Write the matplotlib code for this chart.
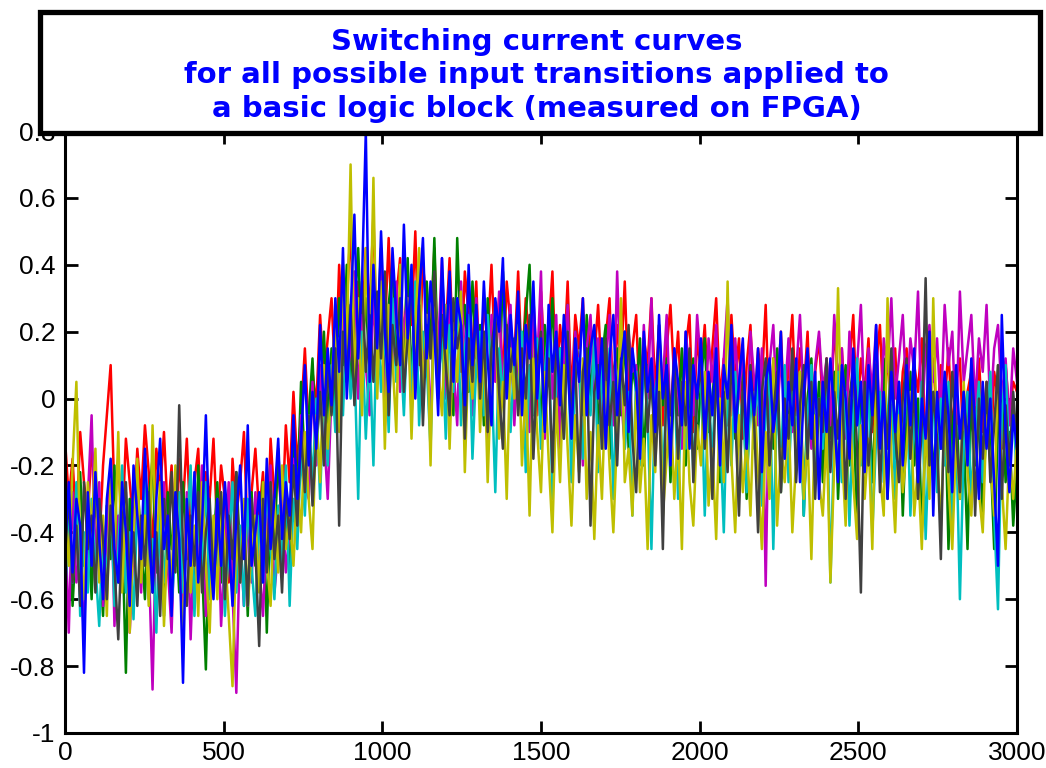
import numpy as np
import matplotlib
matplotlib.use("Agg")
import matplotlib.pyplot as plt
from matplotlib.patches import Rectangle
from matplotlib.ticker import FuncFormatter

plt.rcParams['axes.unicode_minus'] = False

# one value read every 12 samples, 0 .. 3000
x = np.arange(0, 3001, 12)

red = [-0.12, -0.30, -0.18, -0.40, -0.10, -0.25, -0.35, -0.15, -0.28, -0.45,
       -0.20, -0.05, 0.10, -0.30, -0.18, -0.40, -0.12, -0.25, -0.38, -0.15,
       -0.30, -0.08, -0.22, -0.45, -0.15, -0.28, -0.10, -0.35, -0.20, -0.50,
       -0.18, -0.32, -0.12, -0.40, -0.25, -0.15, -0.45, -0.22, -0.30, -0.12,
       -0.40, -0.20, -0.30, -0.55, -0.18, -0.35, -0.25, -0.10, -0.42, -0.28,
       -0.15, -0.35, -0.22, -0.48, -0.12, -0.30, -0.20, -0.38, -0.08, -0.25,
       0.02, -0.20, -0.05, 0.15, -0.10, 0.08, -0.02, 0.25, 0.05, 0.18,
       0.30, 0.05, 0.40, 0.15, 0.28, 0.52, 0.10, 0.35, 0.20, 0.45,
       0.25, 0.55, 0.10, 0.38, 0.20, 0.48, 0.15, 0.30, 0.42, 0.12,
       0.35, 0.22, 0.50, 0.10, 0.40, 0.28, 0.18, 0.45, 0.05, 0.32,
       0.20, 0.42, 0.12, 0.30, 0.08, 0.38, 0.25, 0.15, 0.35, 0.02,
       0.28, 0.18, 0.40, 0.10, 0.30, 0.05, 0.35, 0.22, 0.12, 0.38,
       0.08, 0.30, 0.15, 0.25, -0.05, 0.32, 0.10, 0.20, 0.38, 0.02,
       0.22, 0.10, 0.35, 0.00, 0.25, 0.15, 0.30, -0.02, 0.20, 0.12,
       0.28, 0.05, 0.18, 0.30, -0.05, 0.22, 0.10, 0.35, 0.00, 0.15,
       0.25, -0.05, 0.18, 0.10, 0.30, 0.02, 0.22, -0.08, 0.15, 0.28,
       0.05, 0.20, -0.05, 0.15, 0.25, -0.10, 0.18, 0.08, 0.22, -0.02,
       0.15, 0.30, 0.00, 0.12, -0.08, 0.25, 0.05, 0.18, -0.12, 0.10,
       0.22, -0.05, 0.15, 0.05, 0.28, -0.10, 0.12, 0.00, 0.20, -0.08,
       0.10, 0.25, -0.05, 0.15, 0.02, 0.20, -0.12, 0.08, 0.18, -0.02,
       0.12, -0.10, 0.22, 0.05, 0.15, -0.05, 0.10, 0.25, -0.08, 0.12,
       0.02, 0.18, -0.10, 0.10, 0.22, -0.05, 0.12, 0.00, 0.15, -0.12,
       0.08, 0.15, -0.05, 0.10, 0.02, 0.18, -0.15, 0.05, 0.12, -0.08,
       0.10, -0.02, 0.15, -0.10, 0.05, 0.12, -0.18, 0.02, 0.08, -0.05,
       0.12, -0.10, 0.05, -0.20, 0.08, 0.00, -0.15, 0.10, -0.05, 0.05,
       0.02]

green = [-0.55, -0.30, -0.62, -0.40, -0.22, -0.50, -0.35, -0.60, -0.28, -0.45,
         -0.65, -0.32, -0.48, -0.20, -0.55, -0.38, -0.82, -0.30, -0.50, -0.25,
         -0.42, -0.60, -0.30, -0.18, -0.52, -0.40, -0.65, -0.28, -0.45, -0.35,
         -0.58, -0.25, -0.48, -0.38, -0.62, -0.20, -0.50, -0.81, -0.35, -0.45,
         -0.25, -0.55, -0.40, -0.30, -0.60, -0.22, -0.48, -0.35, -0.65, -0.28,
         -0.50, -0.38, -0.25, -0.70, -0.30, -0.45, -0.15, -0.40, -0.28, -0.55,
         -0.12, -0.30, 0.05, -0.20, -0.05, 0.12, -0.15, 0.00, 0.20, -0.08,
         0.15, -0.02, 0.30, 0.10, 0.40, 0.05, 0.25, 0.45, 0.12, 0.30,
         0.08, 0.35, 0.18, 0.45, 0.02, 0.28, 0.40, 0.10, 0.32, 0.15,
         0.42, 0.05, 0.30, 0.20, -0.02, 0.35, 0.15, 0.48, 0.08, 0.25,
         0.10, 0.32, -0.05, 0.48, 0.15, 0.28, 0.02, 0.35, 0.12, 0.22,
         -0.08, 0.30, 0.10, 0.25, 0.00, 0.38, 0.15, 0.20, -0.05, 0.28,
         0.12, 0.25, 0.40, 0.00, 0.18, -0.10, 0.22, 0.08, 0.30, -0.02,
         0.15, 0.05, 0.28, -0.12, 0.20, 0.10, -0.05, 0.25, 0.00, 0.18,
         -0.10, 0.12, 0.22, -0.18, 0.08, 0.15, -0.05, 0.20, -0.15, 0.10,
         0.02, 0.18, -0.20, 0.10, 0.05, -0.12, 0.22, -0.02, 0.12, -0.25,
         0.08, -0.05, 0.15, -0.20, 0.02, 0.12, -0.15, 0.05, 0.18, -0.10,
         0.00, 0.15, -0.25, 0.08, -0.05, 0.20, -0.12, 0.02, 0.10, -0.30,
         0.05, -0.10, 0.12, -0.22, 0.00, 0.08, -0.15, 0.15, -0.28, 0.02,
         -0.08, 0.10, -0.20, 0.05, -0.35, 0.00, 0.12, -0.15, 0.05, -0.25,
         0.02, -0.12, 0.08, -0.30, -0.05, 0.10, -0.20, 0.00, -0.38, 0.05,
         -0.15, 0.08, -0.25, 0.00, -0.10, 0.12, -0.30, -0.02, -0.18, 0.05,
         -0.35, -0.05, 0.08, -0.20, 0.00, -0.40, -0.10, 0.05, -0.25, -0.02,
         -0.15, 0.05, -0.45, -0.08, 0.02, -0.30, -0.10, -0.45, 0.00, -0.20,
         -0.05, -0.35, 0.02, -0.15, -0.45, -0.08, 0.05, -0.25, -0.10, -0.38,
         -0.20]

magenta = [-0.35, -0.70, -0.28, -0.55, -0.45, -0.72, -0.30, -0.05, -0.50, -0.25,
           -0.62, -0.40, -0.20, -0.68, -0.35, -0.55, -0.28, -0.70, -0.45, -0.30,
           -0.58, -0.22, -0.48, -0.87, -0.35, -0.60, -0.25, -0.50, -0.70, -0.32,
           -0.45, -0.62, -0.28, -0.72, -0.40, -0.55, -0.20, -0.65, -0.38, -0.50,
           -0.30, -0.68, -0.45, -0.25, -0.58, -0.88, -0.40, -0.62, -0.35, -0.55,
           -0.28, -0.50, -0.65, -0.38, -0.20, -0.58, -0.45, -0.30, -0.52, -0.40,
           -0.18, -0.35, -0.05, -0.25, -0.30, 0.05, -0.20, 0.10, -0.10, -0.30,
           0.02, 0.20, -0.08, 0.30, 0.05, 0.15, 0.38, 0.00, 0.25, 0.10,
           -0.05, 0.30, 0.12, 0.40, -0.08, 0.25, 0.10, 0.35, 0.02, 0.22,
           0.30, -0.05, 0.18, 0.40, 0.05, 0.25, -0.10, 0.32, 0.15, 0.42,
           0.00, 0.28, 0.10, -0.08, 0.35, 0.12, 0.22, -0.05, 0.30, 0.08,
           0.20, -0.12, 0.25, 0.05, 0.32, 0.00, 0.18, 0.28, -0.08, 0.15,
           0.05, 0.22, -0.10, 0.30, 0.10, 0.38, -0.12, 0.18, 0.00, 0.25,
           -0.15, 0.12, 0.28, -0.05, 0.20, 0.08, -0.20, 0.15, 0.25, 0.00,
           0.18, -0.12, 0.10, 0.25, -0.08, 0.38, 0.02, -0.15, 0.20, 0.08,
           0.10, -0.10, 0.22, 0.00, 0.30, -0.15, 0.12, 0.05, 0.25, -0.08,
           0.15, 0.02, -0.15, 0.20, 0.08, -0.05, 0.25, 0.10, -0.12, 0.18,
           0.05, 0.22, -0.10, 0.12, 0.30, -0.05, 0.18, 0.00, 0.15, -0.15,
           0.20, 0.05, -0.08, 0.15, -0.56, 0.10, 0.22, -0.05, 0.12, 0.00,
           0.18, -0.10, 0.08, 0.25, -0.02, 0.15, -0.15, 0.10, 0.20, 0.02,
           0.12, -0.08, 0.25, 0.05, 0.15, -0.12, 0.20, 0.00, 0.10, 0.28,
           -0.05, 0.15, 0.02, 0.22, -0.10, 0.18, 0.08, 0.30, 0.00, 0.12,
           0.25, -0.02, 0.18, 0.08, 0.32, -0.08, 0.15, 0.22, 0.05, 0.18,
           -0.05, 0.28, 0.10, 0.20, -0.10, 0.32, 0.05, 0.15, 0.25, -0.02,
           0.18, 0.08, 0.28, -0.05, 0.15, 0.22, 0.00, 0.12, -0.08, 0.15,
           0.05]

cyan = [-0.60, -0.35, -0.55, -0.25, -0.65, -0.40, -0.58, -0.30, -0.50, -0.68,
        -0.38, -0.55, -0.28, -0.62, -0.45, -0.20, -0.58, -0.40, -0.66, -0.32,
        -0.50, -0.25, -0.60, -0.42, -0.70, -0.30, -0.55, -0.38, -0.62, -0.45,
        -0.28, -0.58, -0.40, -0.20, -0.65, -0.35, -0.52, -0.25, -0.60, -0.42,
        -0.55, -0.30, -0.65, -0.45, -0.25, -0.58, -0.38, -0.62, -0.30, -0.50,
        -0.65, -0.35, -0.55, -0.25, -0.45, -0.60, -0.32, -0.50, -0.20, -0.62,
        -0.30, -0.45, -0.15, -0.35, -0.05, -0.25, 0.00, -0.30, 0.05, -0.20,
        0.10, -0.10, 0.18, -0.05, 0.25, 0.00, 0.12, -0.30, 0.20, -0.12,
        0.15, -0.20, 0.28, 0.02, 0.22, -0.10, 0.30, 0.05, 0.18, -0.05,
        0.25, 0.00, 0.35, -0.08, 0.20, 0.10, -0.15, 0.28, 0.05, 0.18,
        -0.12, 0.22, 0.02, 0.30, -0.08, 0.15, 0.25, -0.18, 0.10, 0.20,
        -0.05, 0.25, 0.08, -0.28, 0.15, 0.00, 0.22, -0.10, 0.12, 0.02,
        0.20, -0.22, 0.10, -0.05, 0.18, -0.15, 0.08, 0.22, -0.30, 0.05,
        0.15, -0.12, 0.20, -0.25, 0.05, 0.12, -0.18, 0.08, -0.05, 0.18,
        -0.22, 0.10, -0.10, 0.15, -0.30, 0.05, 0.12, -0.15, 0.02, -0.35,
        0.08, -0.20, 0.12, -0.05, -0.45, 0.02, 0.10, -0.25, 0.05, -0.12,
        0.10, -0.30, 0.05, -0.15, 0.12, -0.22, 0.00, 0.08, -0.35, 0.02,
        -0.18, 0.10, -0.08, -0.40, 0.05, -0.20, 0.08, -0.12, 0.02, -0.28,
        0.05, -0.15, 0.10, -0.32, -0.05, 0.08, -0.45, 0.00, -0.20, 0.10,
        -0.25, 0.02, -0.12, 0.08, -0.35, -0.05, 0.10, -0.22, 0.00, -0.15,
        0.05, -0.55, -0.10, 0.08, -0.25, 0.02, -0.38, -0.05, 0.12, -0.20,
        -0.08, 0.05, -0.40, -0.12, 0.02, -0.25, -0.05, 0.10, -0.30, 0.00,
        -0.15, 0.08, -0.35, -0.05, -0.22, 0.05, -0.42, -0.10, 0.02, -0.28,
        0.00, -0.20, 0.05, -0.38, -0.08, -0.60, -0.15, 0.02, -0.30, -0.10,
        0.05, -0.25, -0.12, 0.08, -0.35, -0.63, -0.05, 0.10, -0.20, -0.02,
        -0.25]

yellow = [-0.30, -0.50, -0.20, 0.05, -0.45, -0.60, -0.25, -0.40, -0.15, -0.55,
          -0.35, -0.65, -0.22, -0.48, -0.10, -0.58, -0.30, -0.70, -0.40, -0.18,
          -0.55, -0.35, -0.62, -0.08, -0.45, -0.25, -0.68, -0.40, -0.55, -0.20,
          -0.48, -0.72, -0.30, -0.58, -0.38, -0.65, -0.25, -0.50, -0.70, -0.35,
          -0.60, -0.28, -0.45, -0.65, -0.86, -0.40, -0.55, -0.30, -0.62, -0.45,
          -0.35, -0.58, -0.25, -0.48, -0.62, -0.30, -0.52, -0.20, -0.45, -0.35,
          -0.50, -0.25, -0.40, -0.10, -0.30, -0.45, -0.05, -0.25, 0.10, -0.15,
          0.05, 0.25, -0.10, 0.40, 0.15, 0.70, 0.05, 0.30, -0.05, 0.45,
          0.10, 0.66, 0.00, 0.35, -0.15, 0.28, 0.12, -0.10, 0.40, 0.05,
          0.30, -0.12, 0.22, 0.45, 0.00, 0.25, -0.20, 0.35, 0.10, -0.05,
          0.28, -0.15, 0.20, 0.05, 0.32, -0.22, 0.15, 0.00, 0.25, -0.10,
          0.18, -0.25, 0.10, 0.28, -0.12, 0.05, -0.30, 0.15, 0.00, 0.22,
          -0.20, 0.05, -0.35, 0.12, -0.10, -0.28, 0.08, -0.18, -0.40, 0.00,
          -0.25, 0.10, -0.15, -0.38, -0.05, -0.22, 0.12, -0.30, -0.10, -0.42,
          -0.08, -0.30, 0.05, -0.20, -0.40, -0.10, 0.30, -0.25, -0.15, -0.35,
          0.02, -0.28, -0.12, -0.45, -0.05, -0.22, 0.15, -0.35, -0.18, 0.00,
          -0.30, -0.10, -0.45, 0.05, -0.25, -0.38, -0.08, -0.20, 0.08, -0.32,
          -0.15, -0.42, 0.00, -0.25, 0.35, -0.18, -0.40, -0.05, -0.28, -0.12,
          -0.35, 0.02, -0.22, -0.45, -0.10, -0.30, 0.12, -0.38, -0.15, -0.25,
          -0.05, -0.40, -0.18, 0.08, -0.30, -0.12, -0.48, -0.05, -0.25, -0.35,
          -0.10, -0.55, -0.20, 0.33, -0.15, -0.38, 0.00, -0.25, -0.42, -0.08,
          -0.30, -0.12, -0.45, 0.05, -0.22, -0.35, 0.30, -0.18, -0.40, -0.05,
          -0.28, -0.15, 0.02, -0.35, -0.20, -0.45, -0.08, -0.30, 0.30, -0.15,
          -0.38, -0.05, -0.25, -0.45, -0.12, -0.30, 0.05, -0.22, -0.35, -0.10,
          -0.28, -0.40, -0.05, -0.20, -0.35, 0.10, -0.25, -0.45, -0.15, -0.30,
          -0.12]

darkgray = [-0.48, -0.28, -0.55, -0.38, -0.62, -0.25, -0.45, -0.35, -0.58, -0.30,
            -0.42, -0.60, -0.32, -0.50, -0.72, -0.38, -0.25, -0.55, -0.40, -0.62,
            -0.35, -0.50, -0.28, -0.58, -0.40, -0.65, -0.30, -0.48, -0.22, -0.52,
            -0.02, -0.45, -0.62, -0.35, -0.50, -0.28, -0.58, -0.40, -0.30, -0.55,
            -0.42, -0.28, -0.60, -0.35, -0.48, -0.22, -0.55, -0.38, -0.62, -0.30,
            -0.45, -0.74, -0.30, -0.52, -0.25, -0.48, -0.35, -0.58, -0.28, -0.42,
            -0.20, -0.38, -0.10, -0.28, -0.05, -0.32, -0.12, 0.02, -0.20, 0.10,
            -0.05, 0.15, -0.38, 0.20, 0.05, 0.28, -0.02, 0.18, 0.35, 0.08,
            0.25, 0.05, 0.32, 0.12, 0.38, -0.05, 0.22, 0.10, 0.30, 0.02,
            0.18, 0.35, 0.05, 0.28, -0.08, 0.22, 0.12, 0.38, 0.00, 0.25,
            0.10, -0.05, 0.30, 0.15, 0.22, -0.12, 0.18, 0.05, 0.28, 0.00,
            0.20, -0.10, 0.15, 0.25, 0.02, -0.15, 0.22, 0.08, 0.18, -0.05,
            0.15, 0.00, 0.25, -0.18, 0.10, 0.20, -0.08, 0.12, -0.22, 0.18,
            0.05, -0.12, 0.20, -0.05, 0.12, -0.25, 0.08, 0.15, -0.38, 0.02,
            0.10, -0.15, 0.18, -0.08, 0.05, -0.20, 0.12, -0.02, 0.22, -0.12,
            -0.28, 0.05, 0.15, -0.10, 0.08, -0.20, 0.02, -0.45, 0.10, -0.05,
            0.12, -0.18, 0.05, -0.08, 0.15, -0.25, 0.00, 0.10, -0.15, 0.05,
            -0.30, 0.08, -0.12, 0.02, -0.22, 0.12, -0.05, -0.35, 0.05, -0.15,
            0.10, -0.08, -0.40, 0.02, 0.12, -0.20, -0.05, 0.08, -0.28, 0.00,
            -0.12, 0.15, -0.25, -0.02, 0.10, -0.18, 0.05, -0.30, 0.00, -0.10,
            0.12, -0.22, 0.02, -0.12, 0.08, -0.30, 0.00, 0.10, -0.15, -0.58,
            0.05, -0.20, -0.05, 0.10, -0.28, 0.02, -0.15, 0.15, -0.10, -0.25,
            0.00, 0.12, -0.18, 0.05, -0.30, -0.08, 0.36, -0.20, 0.02, -0.12,
            -0.48, 0.05, -0.22, 0.08, -0.10, -0.28, 0.02, -0.15, 0.10, -0.35,
            0.00, -0.18, 0.05, -0.25, -0.08, 0.10, -0.30, -0.02, -0.20, 0.02,
            -0.15]

blue = [-0.45, -0.25, -0.52, -0.30, -0.38, -0.82, -0.28, -0.50, -0.22, -0.42,
        -0.60, -0.30, -0.18, -0.45, -0.55, -0.25, -0.40, -0.62, -0.20, -0.35,
        -0.48, -0.15, -0.40, -0.58, -0.30, -0.12, -0.45, -0.35, -0.65, -0.28,
        -0.42, -0.85, -0.30, -0.50, -0.22, -0.55, -0.38, -0.05, -0.45, -0.60,
        -0.30, -0.50, -0.25, -0.42, -0.62, -0.35, -0.20, -0.48, -0.08, -0.50,
        -0.40, -0.28, -0.55, -0.18, -0.45, -0.30, -0.12, -0.42, -0.25, -0.35,
        -0.05, -0.30, -0.12, 0.10, -0.20, 0.02, -0.15, 0.22, -0.05, 0.15,
        -0.02, 0.30, 0.08, 0.45, 0.00, 0.25, 0.55, 0.12, 0.35, 0.80,
        0.05, 0.40, 0.15, 0.50, 0.20, 0.02, 0.45, 0.25, 0.10, 0.52,
        0.18, 0.40, 0.00, 0.30, 0.48, 0.12, 0.35, 0.20, -0.05, 0.42,
        0.15, 0.38, 0.05, 0.30, 0.22, -0.02, 0.40, 0.10, 0.28, 0.05,
        0.35, 0.12, -0.08, 0.30, 0.20, 0.42, 0.00, 0.25, 0.10, 0.32,
        -0.05, 0.22, 0.12, 0.35, 0.00, 0.18, -0.10, 0.28, 0.08, 0.20,
        -0.02, 0.25, 0.10, -0.12, 0.18, 0.05, 0.30, -0.05, 0.15, 0.22,
        0.00, 0.18, -0.15, 0.12, 0.25, -0.05, 0.10, 0.20, -0.10, 0.15,
        0.05, -0.18, 0.20, 0.02, 0.12, -0.10, 0.25, 0.00, 0.10, -0.20,
        0.15, 0.05, -0.08, 0.20, -0.15, 0.10, 0.00, 0.18, -0.12, 0.08,
        -0.05, 0.15, -0.20, 0.10, 0.00, 0.22, -0.10, 0.05, 0.18, -0.15,
        0.08, -0.05, 0.15, -0.22, 0.05, 0.12, -0.10, 0.00, 0.20, -0.18,
        0.05, -0.08, 0.12, -0.25, 0.02, 0.15, -0.12, 0.08, -0.30, 0.05,
        -0.10, 0.12, -0.05, -0.25, 0.10, 0.00, -0.18, 0.15, -0.08, 0.05,
        -0.22, 0.10, -0.05, 0.22, -0.15, 0.02, -0.30, 0.08, -0.10, 0.05,
        -0.20, 0.10, -0.08, 0.15, -0.25, 0.00, -0.12, 0.20, -0.35, 0.02,
        -0.15, 0.08, -0.05, -0.28, 0.10, -0.12, 0.02, -0.20, 0.12, -0.08,
        -0.30, 0.05, -0.15, 0.00, -0.25, -0.50, 0.25, -0.10, -0.28, -0.05,
        -0.15]

# drawn in this order, blue ends up on top
series = [red, green, magenta, cyan, yellow, darkgray, blue]
colors = ["#ff0000", "#008000", "#bf00bf", "#00bfbf", "#bfbf00", "#404040", "#0000ff"]

fig = plt.figure(figsize=(10.46, 7.68), dpi=100)
ax = fig.add_axes([0.0621, 0.0456, 0.9102, 0.7838])

for ys, c in zip(series, colors):
    ax.plot(x, ys, color=c, linewidth=1.8)

ax.set_xlim(0, 3000)
ax.set_ylim(-1, 0.8)
ax.set_xticks(np.arange(0, 3001, 500))
ax.set_yticks(np.arange(-1, 0.81, 0.2))
ax.yaxis.set_major_formatter(FuncFormatter(lambda v, p: "%g" % (round(v, 2) + 0.0)))
ax.tick_params(direction="in", length=9, width=2, top=True, right=True,
               labelsize=19)
ax.tick_params(axis="x", pad=6)
ax.tick_params(axis="y", pad=7)
for lab in ax.get_xticklabels() + ax.get_yticklabels():
    lab.set_fontfamily("Liberation Sans")
for s in ax.spines.values():
    s.set_linewidth(2.2)

# title box sitting over the top of the axes
box = Rectangle((0.0382, 0.8268), 0.956, 0.157, transform=fig.transFigure,
                facecolor="white", edgecolor="black", linewidth=3.8, zorder=5)
fig.patches.append(box)
fig.text(0.513, 0.902,
         "Switching current curves\nfor all possible input transitions applied to\n"
         "a basic logic block (measured on FPGA)",
         ha="center", va="center", color="blue", fontsize=21, fontweight="bold",
         linespacing=1.25, zorder=6)

fig.savefig("out.png", dpi=100)
